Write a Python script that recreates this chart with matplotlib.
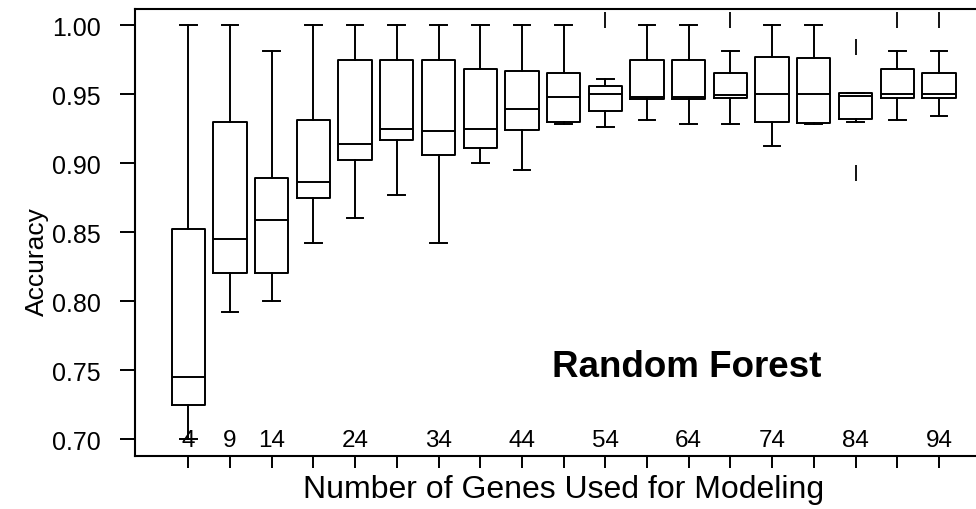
import matplotlib
matplotlib.use("Agg")
import matplotlib.pyplot as plt

plt.rcParams['font.family'] = ['Liberation Sans', 'DejaVu Sans']

# accuracy summaries per number of genes
genes = [4, 9, 14, 19, 24, 29, 34, 39, 44, 49, 54, 59, 64, 69, 74, 79, 84, 89, 94]
whis_lo = [0.700, 0.792, 0.800, 0.842, 0.860, 0.877, 0.842, 0.900, 0.895, 0.9285,
           0.926, 0.931, 0.928, 0.928, 0.912, 0.9283, 0.9295, 0.931, 0.934]
q1 = [0.725, 0.820, 0.820, 0.875, 0.902, 0.917, 0.906, 0.911, 0.924, 0.930,
      0.938, 0.9466, 0.9466, 0.947, 0.9295, 0.9288, 0.932, 0.947, 0.947]
med = [0.745, 0.845, 0.859, 0.8865, 0.914, 0.925, 0.923, 0.925, 0.939, 0.948,
       0.950, 0.948, 0.948, 0.949, 0.950, 0.950, 0.9488, 0.950, 0.950]
q3 = [0.852, 0.930, 0.889, 0.931, 0.975, 0.975, 0.975, 0.968, 0.967, 0.965,
      0.956, 0.975, 0.975, 0.965, 0.977, 0.976, 0.9505, 0.968, 0.965]
whis_hi = [1.0, 1.0, 0.981, 1.0, 1.0, 1.0, 1.0, 1.0, 1.0, 1.0,
           0.961, 1.0, 1.0, 0.981, 1.0, 1.0, 0.951, 0.981, 0.981]
outliers = {54: [1.0038], 69: [1.0038], 84: [0.9842, 0.8926], 89: [1.0038], 94: [1.0038]}
labelled_genes = [4, 9, 14, 24, 34, 44, 54, 64, 74, 84, 94]
y_ticks = [0.70, 0.75, 0.80, 0.85, 0.90, 0.95, 1.00]

stats = []
for i, g in enumerate(genes):
    stats.append({'whislo': whis_lo[i], 'q1': q1[i], 'med': med[i], 'q3': q3[i],
                  'whishi': whis_hi[i], 'fliers': outliers.get(g, [])})

fig = plt.figure(figsize=(9.76, 5.10), dpi=100)
W, H = 976, 510
# axes box in pixels: left 135, top 10, bottom 457; right side runs past the figure
ax = fig.add_axes([135 / W, (H - 457) / H, (1034 - 135) / W, (457 - 10) / H])

lw = 1.4
ax.bxp(stats, positions=genes, widths=4, capwidths=2, showfliers=True,
       boxprops=dict(color='black', linewidth=lw),
       medianprops=dict(color='black', linewidth=lw),
       whiskerprops=dict(color='black', linewidth=lw, linestyle='-'),
       capprops=dict(color='black', linewidth=lw),
       flierprops=dict(marker='|', markersize=11, markeredgewidth=1.3,
                       markeredgecolor='black', linestyle='none'))

ax.set_xlim(-2.39, 105.4)
ax.set_ylim(0.6877, 1.0116)

for side in ['top', 'left', 'bottom', 'right']:
    ax.spines[side].set_linewidth(1.5)

ax.set_yticks(y_ticks)
ax.set_yticklabels([f'{v:.2f}' for v in y_ticks], fontsize=18)
ax.tick_params(axis='y', length=11, width=1.4, pad=13.5)

ax.set_xticks(genes)
ax.set_xticklabels([''] * len(genes))
ax.tick_params(axis='x', length=8.6, width=1.4)

# tick numbers sit inside the box, just above the bottom line
for g in labelled_genes:
    ax.text(g, 0.022, str(g), transform=ax.get_xaxis_transform(),
            ha='center', va='baseline', fontsize=17.5)

ax.set_xlabel('Number of Genes Used for Modeling', fontsize=23, va='baseline')
ax.xaxis.set_label_coords((564 - 135) / 899, -41.3 / 447)
ax.set_ylabel('Accuracy', fontsize=19)
ax.yaxis.set_label_coords((49 - 135) / 899, (457 - 261.7) / 447)

ax.text((687 - 135) / 899, (457 - 376.7) / 447, 'Random Forest', transform=ax.transAxes,
        ha='center', va='baseline', fontsize=26.5, fontweight='bold')

fig.savefig('out.png', dpi=100)
